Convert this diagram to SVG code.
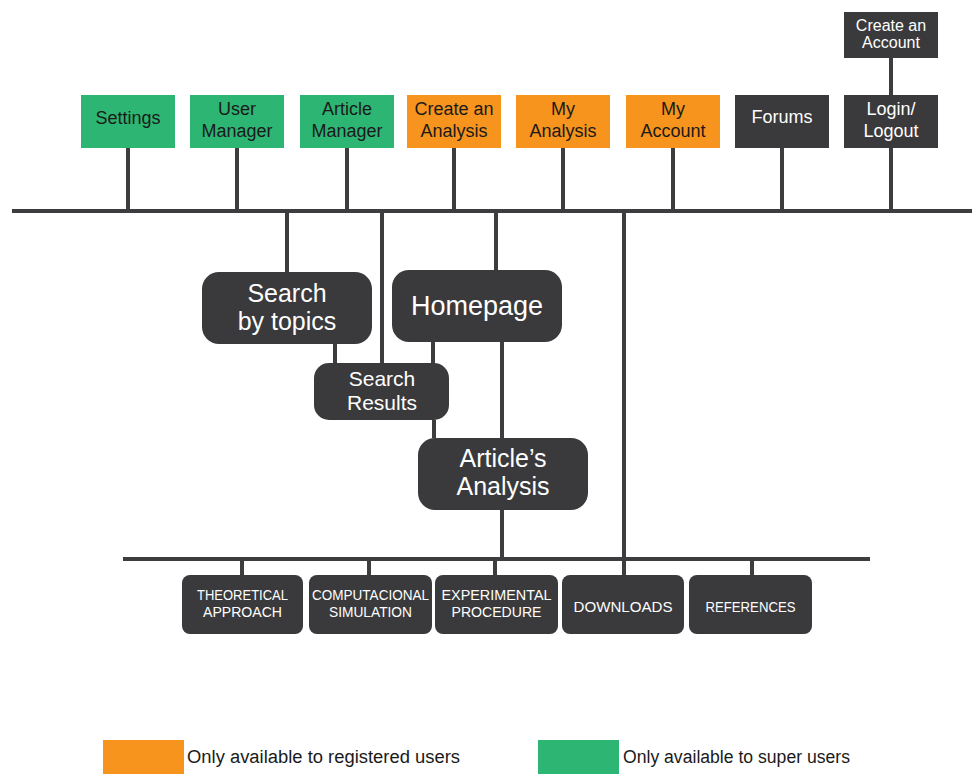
<svg xmlns="http://www.w3.org/2000/svg" width="972" height="774" viewBox="0 0 972 774">
<style>
.g{fill:#2db673}
.o{fill:#f7941e}
.d{fill:#3a3a3c}
.t{font-family:"Liberation Sans",Arial,sans-serif;text-anchor:middle}
.tb{fill:#1a1a1a;font-size:18px}
.tw{fill:#ffffff}
.ln{stroke:#3d3d3f;stroke-width:4;fill:none}
.leg{font-family:"Liberation Sans",Arial,sans-serif;font-size:18px;fill:#1a1a1a}
</style>
<rect width="972" height="774" fill="#ffffff"/>
<g id="connectors" class="ln">
<line x1="12" y1="211" x2="972" y2="211"/>
<line x1="128" y1="148" x2="128" y2="211"/>
<line x1="237" y1="148" x2="237" y2="211"/>
<line x1="347" y1="148" x2="347" y2="211"/>
<line x1="454" y1="148" x2="454" y2="211"/>
<line x1="563" y1="148" x2="563" y2="211"/>
<line x1="673" y1="148" x2="673" y2="211"/>
<line x1="782" y1="148" x2="782" y2="211"/>
<line x1="891" y1="148" x2="891" y2="211"/>
<line x1="891" y1="58" x2="891" y2="95"/>
<line x1="287" y1="211" x2="287" y2="272"/>
<line x1="382" y1="211" x2="382" y2="363"/>
<line x1="496" y1="211" x2="496" y2="270"/>
<line x1="624" y1="211" x2="624" y2="575"/>
<line x1="335" y1="344" x2="335" y2="363"/>
<line x1="433" y1="342" x2="433" y2="363"/>
<line x1="434" y1="420" x2="434" y2="438"/>
<line x1="502" y1="342" x2="502" y2="438"/>
<line x1="502" y1="510" x2="502" y2="559"/>
<line x1="123" y1="559" x2="870" y2="559"/>
<line x1="242" y1="559" x2="242" y2="575"/>
<line x1="369" y1="559" x2="369" y2="575"/>
<line x1="495" y1="559" x2="495" y2="575"/>
<line x1="752" y1="559" x2="752" y2="575"/>
</g>
<g id="settings"><rect class="g" x="81" y="95" width="94" height="53"/><text class="t tb" x="128" y="124">Settings</text></g>
<g id="user-manager"><rect class="g" x="190" y="95" width="94" height="53"/><text class="t tb" x="237" y="115">User</text><text class="t tb" x="237" y="137">Manager</text></g>
<g id="article-manager"><rect class="g" x="300" y="95" width="94" height="53"/><text class="t tb" x="347" y="115">Article</text><text class="t tb" x="347" y="137">Manager</text></g>
<g id="create-analysis"><rect class="o" x="407" y="95" width="94" height="53"/><text class="t tb" x="454" y="115">Create an</text><text class="t tb" x="454" y="137">Analysis</text></g>
<g id="my-analysis"><rect class="o" x="516" y="95" width="94" height="53"/><text class="t tb" x="563" y="115">My</text><text class="t tb" x="563" y="137">Analysis</text></g>
<g id="my-account"><rect class="o" x="626" y="95" width="94" height="53"/><text class="t tb" x="673" y="115">My</text><text class="t tb" x="673" y="137">Account</text></g>
<g id="forums"><rect class="d" x="735" y="95" width="94" height="53"/><text class="t tw" font-size="18" x="782" y="123">Forums</text></g>
<g id="login"><rect class="d" x="844" y="95" width="94" height="53"/><text class="t tw" font-size="18" x="891" y="115">Login/</text><text class="t tw" font-size="18" x="891" y="137">Logout</text></g>
<g id="create-account"><rect class="d" x="844" y="12" width="94" height="46"/><text class="t tw" font-size="16" x="891" y="31">Create an</text><text class="t tw" font-size="16" x="891" y="48">Account</text></g>
<g id="search-topics"><rect class="d" x="202" y="272" width="170" height="72" rx="17"/><text class="t tw" font-size="25" x="287" y="302">Search</text><text class="t tw" font-size="25" x="287" y="330">by topics</text></g>
<g id="homepage"><rect class="d" x="392" y="270" width="170" height="72" rx="17"/><text class="t tw" font-size="27" x="477" y="315">Homepage</text></g>
<g id="search-results"><rect class="d" x="314" y="363" width="135" height="57" rx="15"/><text class="t tw" font-size="21" x="382" y="386">Search</text><text class="t tw" font-size="21" x="382" y="410">Results</text></g>
<g id="articles-analysis"><rect class="d" x="418" y="438" width="170" height="72" rx="17"/><text class="t tw" font-size="25" x="503" y="467">Article&#8217;s</text><text class="t tw" font-size="25" x="503" y="495">Analysis</text></g>
<g id="theoretical"><rect class="d" x="182" y="575" width="121" height="59" rx="8"/><text class="t tw" font-size="15" x="242.5" y="600" textLength="91" lengthAdjust="spacingAndGlyphs">THEORETICAL</text><text class="t tw" font-size="15" x="242.5" y="617" textLength="79" lengthAdjust="spacingAndGlyphs">APPROACH</text></g>
<g id="computacional"><rect class="d" x="309" y="575" width="123" height="59" rx="8"/><text class="t tw" font-size="15" x="370.5" y="600" textLength="117" lengthAdjust="spacingAndGlyphs">COMPUTACIONAL</text><text class="t tw" font-size="15" x="370.5" y="617" textLength="83" lengthAdjust="spacingAndGlyphs">SIMULATION</text></g>
<g id="experimental"><rect class="d" x="435" y="575" width="123" height="59" rx="8"/><text class="t tw" font-size="15" x="496.5" y="600" textLength="110" lengthAdjust="spacingAndGlyphs">EXPERIMENTAL</text><text class="t tw" font-size="15" x="496.5" y="617" textLength="90" lengthAdjust="spacingAndGlyphs">PROCEDURE</text></g>
<g id="downloads"><rect class="d" x="562" y="575" width="122" height="59" rx="8"/><text class="t tw" font-size="15" x="623" y="612" textLength="99" lengthAdjust="spacingAndGlyphs">DOWNLOADS</text></g>
<g id="references"><rect class="d" x="689" y="575" width="123" height="59" rx="8"/><text class="t tw" font-size="15" x="750.5" y="612" textLength="90" lengthAdjust="spacingAndGlyphs">REFERENCES</text></g>
<g id="legend">
<rect class="o" x="103" y="740" width="81" height="34"/>
<text class="leg" x="187" y="763" textLength="273" lengthAdjust="spacingAndGlyphs">Only available to registered users</text>
<rect class="g" x="538" y="740" width="81" height="34"/>
<text class="leg" x="623" y="763" textLength="227" lengthAdjust="spacingAndGlyphs">Only available to super users</text>
</g>
</svg>
